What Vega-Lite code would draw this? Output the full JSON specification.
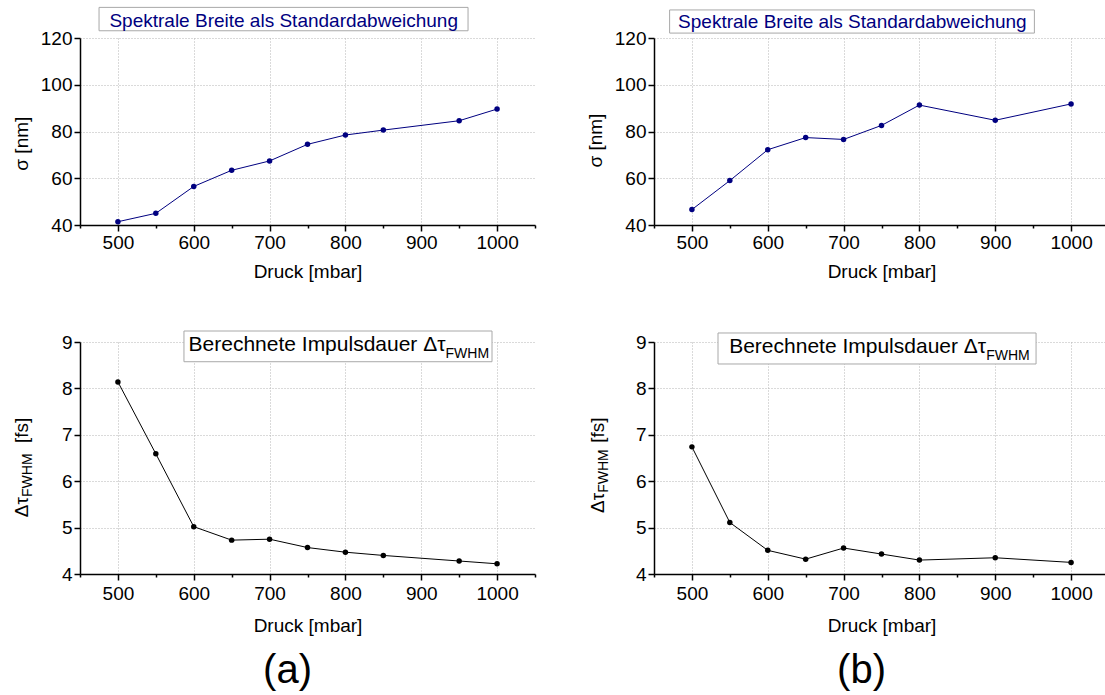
{
  "$schema": "https://vega.github.io/schema/vega-lite/v6.json",
  "background": "white",
  "padding": {"left": 12, "top": 6, "right": 0, "bottom": 0},
  "config": {
    "view": {"stroke": null},
    "font": "Liberation Sans",
    "axis": {
      "domainColor": "#000", "domainWidth": 1.5, "tickColor": "#000", "tickWidth": 1.5,
      "labelFont": "Liberation Sans", "labelFontSize": 19, "labelColor": "#000",
      "titleFont": "Liberation Sans", "titleFontSize": 19, "titleFontWeight": "normal", "titleColor": "#000",
      "grid": true, "gridColor": "#b4b4b4", "gridDash": [1, 2], "gridWidth": 1,
      "labelOverlap": false, "labelFlush": false, "labelPadding": 2
    }
  },
  "datasets": {
    "sa": [{"p":500,"v":41.4},{"p":550,"v":45.0},{"p":600,"v":56.5},{"p":650,"v":63.4},{"p":700,"v":67.4},{"p":750,"v":74.5},{"p":800,"v":78.5},{"p":850,"v":80.6},{"p":950,"v":84.6},{"p":1000,"v":89.6}],
    "sb": [{"p":500,"v":46.6},{"p":550,"v":59.0},{"p":600,"v":72.2},{"p":650,"v":77.4},{"p":700,"v":76.6},{"p":750,"v":82.6},{"p":800,"v":91.3},{"p":900,"v":84.8},{"p":1000,"v":91.8}],
    "ta": [{"p":500,"v":8.14},{"p":550,"v":6.59},{"p":600,"v":5.02},{"p":650,"v":4.73},{"p":700,"v":4.75},{"p":750,"v":4.57},{"p":800,"v":4.47},{"p":850,"v":4.40},{"p":950,"v":4.28},{"p":1000,"v":4.22}],
    "tb": [{"p":500,"v":6.74},{"p":550,"v":5.11},{"p":600,"v":4.51},{"p":650,"v":4.32},{"p":700,"v":4.56},{"p":750,"v":4.43},{"p":800,"v":4.30},{"p":900,"v":4.35},{"p":1000,"v":4.25}]
  },
  "columns": 2,
  "spacing": {"row": 117, "column": 119},
  "bounds": "flush",
  "concat": [
    {
      "width": 455, "height": 187,
      "data": {"values": [{}]},
      "layer": [
        {
          "data": {"name": "sa"},
          "mark": {"type": "line", "color": "#000080", "strokeWidth": 1, "point": {"filled": true, "size": 30, "color": "#000080"}},
          "encoding": {
            "x": {"field": "p", "type": "quantitative", "scale": {"domain": [450, 1050], "nice": false, "zero": false},
              "axis": {"title": "Druck [mbar]", "titlePadding": 10, "values": [450,500,550,600,650,700,750,800,850,900,950,1000,1050],
                "labelExpr": "datum.value % 100 === 0 ? '' + datum.value : ''",
                "tickSize": {"condition": {"test": "datum.value % 100 === 0", "value": 6}, "value": 3},
                "gridOpacity": {"condition": {"test": "datum.value % 100 === 0", "value": 1}, "value": 0}}},
            "y": {"field": "v", "type": "quantitative", "scale": {"domain": [40, 120], "nice": false, "zero": false},
              "axis": {"title": null, "values": [40,50,60,70,80,90,100,110,120],
                "labelExpr": "datum.value % 20 === 0 ? '' + datum.value : ''",
                "tickSize": {"condition": {"test": "datum.value % 20 === 0", "value": 6}, "value": 3},
                "gridOpacity": {"condition": {"test": "datum.value % 20 === 0", "value": 1}, "value": 0}}}
          }
        },
        {
          "mark": {"type": "rect", "fill": "white", "stroke": "#a8a8a8", "strokeWidth": 1},
          "encoding": {
            "x": {"datum": 475.1, "type": "quantitative",
              "axis": {"title": "Druck [mbar]", "titlePadding": 10, "values": [450,500,550,600,650,700,750,800,850,900,950,1000,1050],
                "labelExpr": "datum.value % 100 === 0 ? '' + datum.value : ''",
                "tickSize": {"condition": {"test": "datum.value % 100 === 0", "value": 6}, "value": 3},
                "gridOpacity": {"condition": {"test": "datum.value % 100 === 0", "value": 1}, "value": 0}}},
            "x2": {"datum": 961.7},
            "y": {"datum": 133.1, "type": "quantitative"},
            "y2": {"datum": 123.1}
          }
        },
        {
          "mark": {"type": "text", "text": "Spektrale Breite als Standardabweichung", "fontSize": 19, "color": "#000080", "align": "center", "baseline": "alphabetic"},
          "encoding": {
            "x": {"datum": 718.6, "type": "quantitative",
              "axis": {"title": "Druck [mbar]", "titlePadding": 10, "values": [450,500,550,600,650,700,750,800,850,900,950,1000,1050],
                "labelExpr": "datum.value % 100 === 0 ? '' + datum.value : ''",
                "tickSize": {"condition": {"test": "datum.value % 100 === 0", "value": 6}, "value": 3},
                "gridOpacity": {"condition": {"test": "datum.value % 100 === 0", "value": 1}, "value": 0}}},
            "y": {"datum": 124.8, "type": "quantitative"}
          }
        },
        {
          "mark": {"type": "text", "text": "σ [nm]", "fontSize": 19, "angle": 270, "color": "#000", "align": "center", "baseline": "alphabetic"},
          "encoding": {
            "x": {"datum": 381.4, "type": "quantitative",
              "axis": {"title": "Druck [mbar]", "titlePadding": 10, "values": [450,500,550,600,650,700,750,800,850,900,950,1000,1050],
                "labelExpr": "datum.value % 100 === 0 ? '' + datum.value : ''",
                "tickSize": {"condition": {"test": "datum.value % 100 === 0", "value": 6}, "value": 3},
                "gridOpacity": {"condition": {"test": "datum.value % 100 === 0", "value": 1}, "value": 0}}},
            "y": {"datum": 74.8, "type": "quantitative"}
          }
        }
      ]
    },
    {
      "width": 455, "height": 187,
      "data": {"values": [{}]},
      "layer": [
        {
          "data": {"name": "sb"},
          "mark": {"type": "line", "color": "#000080", "strokeWidth": 1, "point": {"filled": true, "size": 30, "color": "#000080"}},
          "encoding": {
            "x": {"field": "p", "type": "quantitative", "scale": {"domain": [450, 1050], "nice": false, "zero": false},
              "axis": {"title": "Druck [mbar]", "titlePadding": 10, "values": [450,500,550,600,650,700,750,800,850,900,950,1000,1050],
                "labelExpr": "datum.value % 100 === 0 ? '' + datum.value : ''",
                "tickSize": {"condition": {"test": "datum.value % 100 === 0", "value": 6}, "value": 3},
                "gridOpacity": {"condition": {"test": "datum.value % 100 === 0", "value": 1}, "value": 0}}},
            "y": {"field": "v", "type": "quantitative", "scale": {"domain": [40, 120], "nice": false, "zero": false},
              "axis": {"title": null, "values": [40,50,60,70,80,90,100,110,120],
                "labelExpr": "datum.value % 20 === 0 ? '' + datum.value : ''",
                "tickSize": {"condition": {"test": "datum.value % 20 === 0", "value": 6}, "value": 3},
                "gridOpacity": {"condition": {"test": "datum.value % 20 === 0", "value": 1}, "value": 0}}}
          }
        },
        {
          "mark": {"type": "rect", "fill": "white", "stroke": "#a8a8a8", "strokeWidth": 1},
          "encoding": {
            "x": {"datum": 470.6, "type": "quantitative",
              "axis": {"title": "Druck [mbar]", "titlePadding": 10, "values": [450,500,550,600,650,700,750,800,850,900,950,1000,1050],
                "labelExpr": "datum.value % 100 === 0 ? '' + datum.value : ''",
                "tickSize": {"condition": {"test": "datum.value % 100 === 0", "value": 6}, "value": 3},
                "gridOpacity": {"condition": {"test": "datum.value % 100 === 0", "value": 1}, "value": 0}}},
            "x2": {"datum": 951.6},
            "y": {"datum": 132.0, "type": "quantitative"},
            "y2": {"datum": 122.1}
          }
        },
        {
          "mark": {"type": "text", "text": "Spektrale Breite als Standardabweichung", "fontSize": 19, "color": "#000080", "align": "center", "baseline": "alphabetic"},
          "encoding": {
            "x": {"datum": 711.6, "type": "quantitative",
              "axis": {"title": "Druck [mbar]", "titlePadding": 10, "values": [450,500,550,600,650,700,750,800,850,900,950,1000,1050],
                "labelExpr": "datum.value % 100 === 0 ? '' + datum.value : ''",
                "tickSize": {"condition": {"test": "datum.value % 100 === 0", "value": 6}, "value": 3},
                "gridOpacity": {"condition": {"test": "datum.value % 100 === 0", "value": 1}, "value": 0}}},
            "y": {"datum": 124.3, "type": "quantitative"}
          }
        },
        {
          "mark": {"type": "text", "text": "σ [nm]", "fontSize": 19, "angle": 270, "color": "#000", "align": "center", "baseline": "alphabetic"},
          "encoding": {
            "x": {"datum": 381.4, "type": "quantitative",
              "axis": {"title": "Druck [mbar]", "titlePadding": 10, "values": [450,500,550,600,650,700,750,800,850,900,950,1000,1050],
                "labelExpr": "datum.value % 100 === 0 ? '' + datum.value : ''",
                "tickSize": {"condition": {"test": "datum.value % 100 === 0", "value": 6}, "value": 3},
                "gridOpacity": {"condition": {"test": "datum.value % 100 === 0", "value": 1}, "value": 0}}},
            "y": {"datum": 76.1, "type": "quantitative"}
          }
        }
      ]
    },
    {
      "width": 455, "height": 232,
      "title": {"text": "(a)", "orient": "bottom", "fontSize": 40, "fontWeight": "normal", "font": "Liberation Sans", "color": "#000", "offset": 16, "dx": -20, "anchor": "middle"},
      "data": {"values": [{}]},
      "layer": [
        {
          "data": {"name": "ta"},
          "mark": {"type": "line", "color": "#000", "strokeWidth": 1, "point": {"filled": true, "size": 30, "color": "#000"}},
          "encoding": {
            "x": {"field": "p", "type": "quantitative", "scale": {"domain": [450, 1050], "nice": false, "zero": false},
              "axis": {"title": "Druck [mbar]", "titlePadding": 13, "labelPadding": 4, "values": [450,500,550,600,650,700,750,800,850,900,950,1000,1050],
                "labelExpr": "datum.value % 100 === 0 ? '' + datum.value : ''",
                "tickSize": {"condition": {"test": "datum.value % 100 === 0", "value": 6}, "value": 3},
                "gridOpacity": {"condition": {"test": "datum.value % 100 === 0", "value": 1}, "value": 0}}},
            "y": {"field": "v", "type": "quantitative", "scale": {"domain": [4, 9], "nice": false, "zero": false},
              "axis": {"title": null, "values": [4,4.5,5,5.5,6,6.5,7,7.5,8,8.5,9],
                "labelExpr": "datum.value % 1 === 0 ? '' + datum.value : ''",
                "tickSize": {"condition": {"test": "datum.value % 1 === 0", "value": 6}, "value": 3},
                "gridOpacity": {"condition": {"test": "datum.value % 1 === 0", "value": 1}, "value": 0}}}
          }
        },
        {
          "mark": {"type": "rect", "fill": "white", "stroke": "#a8a8a8", "strokeWidth": 1},
          "encoding": {
            "x": {"datum": 587.1, "type": "quantitative",
              "axis": {"title": "Druck [mbar]", "titlePadding": 13, "labelPadding": 4, "values": [450,500,550,600,650,700,750,800,850,900,950,1000,1050],
                "labelExpr": "datum.value % 100 === 0 ? '' + datum.value : ''",
                "tickSize": {"condition": {"test": "datum.value % 100 === 0", "value": 6}, "value": 3},
                "gridOpacity": {"condition": {"test": "datum.value % 100 === 0", "value": 1}, "value": 0}}},
            "x2": {"datum": 993.3},
            "y": {"datum": 9.237, "type": "quantitative"},
            "y2": {"datum": 8.575}
          }
        },
        {
          "mark": {"type": "text", "text": "Berechnete Impulsdauer Δτ", "fontSize": 21, "color": "#000", "align": "right", "baseline": "alphabetic"},
          "encoding": {
            "x": {"datum": 932, "type": "quantitative",
              "axis": {"title": "Druck [mbar]", "titlePadding": 13, "labelPadding": 4, "values": [450,500,550,600,650,700,750,800,850,900,950,1000,1050],
                "labelExpr": "datum.value % 100 === 0 ? '' + datum.value : ''",
                "tickSize": {"condition": {"test": "datum.value % 100 === 0", "value": 6}, "value": 3},
                "gridOpacity": {"condition": {"test": "datum.value % 100 === 0", "value": 1}, "value": 0}}},
            "y": {"datum": 8.806, "type": "quantitative"}
          }
        },
        {
          "mark": {"type": "text", "text": "FWHM", "fontSize": 14, "color": "#000", "align": "left", "baseline": "alphabetic", "dy": 7},
          "encoding": {
            "x": {"datum": 932, "type": "quantitative",
              "axis": {"title": "Druck [mbar]", "titlePadding": 13, "labelPadding": 4, "values": [450,500,550,600,650,700,750,800,850,900,950,1000,1050],
                "labelExpr": "datum.value % 100 === 0 ? '' + datum.value : ''",
                "tickSize": {"condition": {"test": "datum.value % 100 === 0", "value": 6}, "value": 3},
                "gridOpacity": {"condition": {"test": "datum.value % 100 === 0", "value": 1}, "value": 0}}},
            "y": {"datum": 8.806, "type": "quantitative"}
          }
        },
        {
          "mark": {"type": "text", "text": "Δτ", "fontSize": 19, "angle": 270, "color": "#000", "align": "right", "baseline": "alphabetic"},
          "encoding": {
            "x": {"datum": 381, "type": "quantitative",
              "axis": {"title": "Druck [mbar]", "titlePadding": 13, "labelPadding": 4, "values": [450,500,550,600,650,700,750,800,850,900,950,1000,1050],
                "labelExpr": "datum.value % 100 === 0 ? '' + datum.value : ''",
                "tickSize": {"condition": {"test": "datum.value % 100 === 0", "value": 6}, "value": 3},
                "gridOpacity": {"condition": {"test": "datum.value % 100 === 0", "value": 1}, "value": 0}}},
            "y": {"datum": 5.66, "type": "quantitative"}
          }
        },
        {
          "mark": {"type": "text", "text": "FWHM", "fontSize": 14, "angle": 270, "color": "#000", "align": "left", "baseline": "alphabetic", "dy": 4},
          "encoding": {
            "x": {"datum": 381, "type": "quantitative",
              "axis": {"title": "Druck [mbar]", "titlePadding": 13, "labelPadding": 4, "values": [450,500,550,600,650,700,750,800,850,900,950,1000,1050],
                "labelExpr": "datum.value % 100 === 0 ? '' + datum.value : ''",
                "tickSize": {"condition": {"test": "datum.value % 100 === 0", "value": 6}, "value": 3},
                "gridOpacity": {"condition": {"test": "datum.value % 100 === 0", "value": 1}, "value": 0}}},
            "y": {"datum": 5.66, "type": "quantitative"}
          }
        },
        {
          "mark": {"type": "text", "text": "[fs]", "fontSize": 19, "angle": 270, "color": "#000", "align": "left", "baseline": "alphabetic", "dx": 54},
          "encoding": {
            "x": {"datum": 381, "type": "quantitative",
              "axis": {"title": "Druck [mbar]", "titlePadding": 13, "labelPadding": 4, "values": [450,500,550,600,650,700,750,800,850,900,950,1000,1050],
                "labelExpr": "datum.value % 100 === 0 ? '' + datum.value : ''",
                "tickSize": {"condition": {"test": "datum.value % 100 === 0", "value": 6}, "value": 3},
                "gridOpacity": {"condition": {"test": "datum.value % 100 === 0", "value": 1}, "value": 0}}},
            "y": {"datum": 5.66, "type": "quantitative"}
          }
        }
      ]
    },
    {
      "width": 455, "height": 232,
      "title": {"text": "(b)", "orient": "bottom", "fontSize": 40, "fontWeight": "normal", "font": "Liberation Sans", "color": "#000", "offset": 16, "dx": -20, "anchor": "middle"},
      "data": {"values": [{}]},
      "layer": [
        {
          "data": {"name": "tb"},
          "mark": {"type": "line", "color": "#000", "strokeWidth": 1, "point": {"filled": true, "size": 30, "color": "#000"}},
          "encoding": {
            "x": {"field": "p", "type": "quantitative", "scale": {"domain": [450, 1050], "nice": false, "zero": false},
              "axis": {"title": "Druck [mbar]", "titlePadding": 13, "labelPadding": 4, "values": [450,500,550,600,650,700,750,800,850,900,950,1000,1050],
                "labelExpr": "datum.value % 100 === 0 ? '' + datum.value : ''",
                "tickSize": {"condition": {"test": "datum.value % 100 === 0", "value": 6}, "value": 3},
                "gridOpacity": {"condition": {"test": "datum.value % 100 === 0", "value": 1}, "value": 0}}},
            "y": {"field": "v", "type": "quantitative", "scale": {"domain": [4, 9], "nice": false, "zero": false},
              "axis": {"title": null, "values": [4,4.5,5,5.5,6,6.5,7,7.5,8,8.5,9],
                "labelExpr": "datum.value % 1 === 0 ? '' + datum.value : ''",
                "tickSize": {"condition": {"test": "datum.value % 1 === 0", "value": 6}, "value": 3},
                "gridOpacity": {"condition": {"test": "datum.value % 1 === 0", "value": 1}, "value": 0}}}
          }
        },
        {
          "mark": {"type": "rect", "fill": "white", "stroke": "#a8a8a8", "strokeWidth": 1},
          "encoding": {
            "x": {"datum": 534.4, "type": "quantitative",
              "axis": {"title": "Druck [mbar]", "titlePadding": 13, "labelPadding": 4, "values": [450,500,550,600,650,700,750,800,850,900,950,1000,1050],
                "labelExpr": "datum.value % 100 === 0 ? '' + datum.value : ''",
                "tickSize": {"condition": {"test": "datum.value % 100 === 0", "value": 6}, "value": 3},
                "gridOpacity": {"condition": {"test": "datum.value % 100 === 0", "value": 1}, "value": 0}}},
            "x2": {"datum": 953.8},
            "y": {"datum": 9.194, "type": "quantitative"},
            "y2": {"datum": 8.526}
          }
        },
        {
          "mark": {"type": "text", "text": "Berechnete Impulsdauer Δτ", "fontSize": 21, "color": "#000", "align": "right", "baseline": "alphabetic"},
          "encoding": {
            "x": {"datum": 888, "type": "quantitative",
              "axis": {"title": "Druck [mbar]", "titlePadding": 13, "labelPadding": 4, "values": [450,500,550,600,650,700,750,800,850,900,950,1000,1050],
                "labelExpr": "datum.value % 100 === 0 ? '' + datum.value : ''",
                "tickSize": {"condition": {"test": "datum.value % 100 === 0", "value": 6}, "value": 3},
                "gridOpacity": {"condition": {"test": "datum.value % 100 === 0", "value": 1}, "value": 0}}},
            "y": {"datum": 8.756, "type": "quantitative"}
          }
        },
        {
          "mark": {"type": "text", "text": "FWHM", "fontSize": 14, "color": "#000", "align": "left", "baseline": "alphabetic", "dy": 7},
          "encoding": {
            "x": {"datum": 888, "type": "quantitative",
              "axis": {"title": "Druck [mbar]", "titlePadding": 13, "labelPadding": 4, "values": [450,500,550,600,650,700,750,800,850,900,950,1000,1050],
                "labelExpr": "datum.value % 100 === 0 ? '' + datum.value : ''",
                "tickSize": {"condition": {"test": "datum.value % 100 === 0", "value": 6}, "value": 3},
                "gridOpacity": {"condition": {"test": "datum.value % 100 === 0", "value": 1}, "value": 0}}},
            "y": {"datum": 8.756, "type": "quantitative"}
          }
        },
        {
          "mark": {"type": "text", "text": "Δτ", "fontSize": 19, "angle": 270, "color": "#000", "align": "right", "baseline": "alphabetic"},
          "encoding": {
            "x": {"datum": 384, "type": "quantitative",
              "axis": {"title": "Druck [mbar]", "titlePadding": 13, "labelPadding": 4, "values": [450,500,550,600,650,700,750,800,850,900,950,1000,1050],
                "labelExpr": "datum.value % 100 === 0 ? '' + datum.value : ''",
                "tickSize": {"condition": {"test": "datum.value % 100 === 0", "value": 6}, "value": 3},
                "gridOpacity": {"condition": {"test": "datum.value % 100 === 0", "value": 1}, "value": 0}}},
            "y": {"datum": 5.75, "type": "quantitative"}
          }
        },
        {
          "mark": {"type": "text", "text": "FWHM", "fontSize": 14, "angle": 270, "color": "#000", "align": "left", "baseline": "alphabetic", "dy": 4},
          "encoding": {
            "x": {"datum": 384, "type": "quantitative",
              "axis": {"title": "Druck [mbar]", "titlePadding": 13, "labelPadding": 4, "values": [450,500,550,600,650,700,750,800,850,900,950,1000,1050],
                "labelExpr": "datum.value % 100 === 0 ? '' + datum.value : ''",
                "tickSize": {"condition": {"test": "datum.value % 100 === 0", "value": 6}, "value": 3},
                "gridOpacity": {"condition": {"test": "datum.value % 100 === 0", "value": 1}, "value": 0}}},
            "y": {"datum": 5.75, "type": "quantitative"}
          }
        },
        {
          "mark": {"type": "text", "text": "[fs]", "fontSize": 19, "angle": 270, "color": "#000", "align": "left", "baseline": "alphabetic", "dx": 50},
          "encoding": {
            "x": {"datum": 384, "type": "quantitative",
              "axis": {"title": "Druck [mbar]", "titlePadding": 13, "labelPadding": 4, "values": [450,500,550,600,650,700,750,800,850,900,950,1000,1050],
                "labelExpr": "datum.value % 100 === 0 ? '' + datum.value : ''",
                "tickSize": {"condition": {"test": "datum.value % 100 === 0", "value": 6}, "value": 3},
                "gridOpacity": {"condition": {"test": "datum.value % 100 === 0", "value": 1}, "value": 0}}},
            "y": {"datum": 5.75, "type": "quantitative"}
          }
        }
      ]
    }
  ]
}
